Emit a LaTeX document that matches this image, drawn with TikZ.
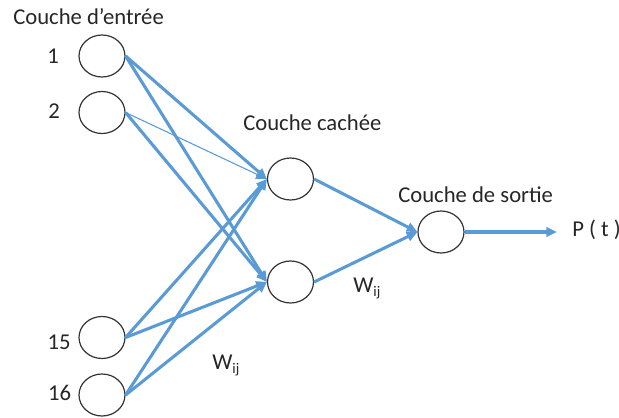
\documentclass[tikz,border=0pt]{standalone}
\usepackage{fontspec}
\setmainfont{Carlito}
\usetikzlibrary{arrows.meta,shapes.geometric}
\definecolor{linkblue}{HTML}{5B9BD5}
\newcommand{\wij}{W\raisebox{-0.45ex}{\fontsize{11}{12}\selectfont ij}}
\begin{document}
\begin{tikzpicture}[x=0.75pt,y=-0.75pt,
  neuron/.style={draw=black!80,line width=0.9pt,ellipse,minimum width=34.5pt,minimum height=31.5pt,inner sep=0pt},
  link/.style={draw=linkblue,line width=2.3pt,-{Triangle[length=8pt,width=7pt]}},
  thinlink/.style={draw=linkblue,line width=0.8pt,-{Triangle[length=8pt,width=7pt]}},
  lbl/.style={font=\fontsize{17}{20}\selectfont,text=black!85,inner sep=0pt}]
\useasboundingbox (0,0) rectangle (619,418);
% input layer
\node[neuron] (i1) at (102,56) {};
\node[neuron] (i2) at (102,112.5) {};
\node[neuron] (i15) at (102,337.5) {};
\node[neuron] (i16) at (102,395) {};
% hidden layer
\node[neuron] (h1) at (290.5,179) {};
\node[neuron] (h2) at (290.5,282) {};
% output layer
\node[neuron] (o) at (441,232) {};
\coordinate (out) at (557,232);
% layer titles and labels
\node[lbl,anchor=base west] (t1) at (13,24) {Couche d’entrée};
\node[lbl,anchor=base west] (t2) at (243,130) {Couche cachée};
\node[lbl,anchor=base west] (t3) at (398,202) {Couche de sortie};
\node[lbl,anchor=base] (n1) at (53,63) {1};
\node[lbl,anchor=base] (n2) at (54,118) {2};
\node[lbl,anchor=base] (n15) at (59,349) {15};
\node[lbl,anchor=base] (n16) at (59.5,400) {16};
\node[lbl,anchor=base west] (p) at (572,236) {P ( t )};
\node[lbl,anchor=base west] (w1) at (353,292) {\wij};
\node[lbl,anchor=base west] (w2) at (212,369) {\wij};
% input to hidden connections
\draw[link] (i1.east) -- (h1.west);
\draw[link] (i1.east) -- (h2.west);
\draw[thinlink] (i2.east) -- (h1.west);
\draw[link] (i2.east) -- (h2.west);
\draw[link] (i15.east) -- (h1.west);
\draw[link] (i15.east) -- (h2.west);
\draw[link] (i16.east) -- (h1.west);
\draw[link] (i16.east) -- (h2.west);
% hidden to output
\draw[link] (h1.east) -- (o.west);
\draw[link] (h2.east) -- (o.west);
\draw[link] (o.east) -- (out);
\end{tikzpicture}
\end{document}
